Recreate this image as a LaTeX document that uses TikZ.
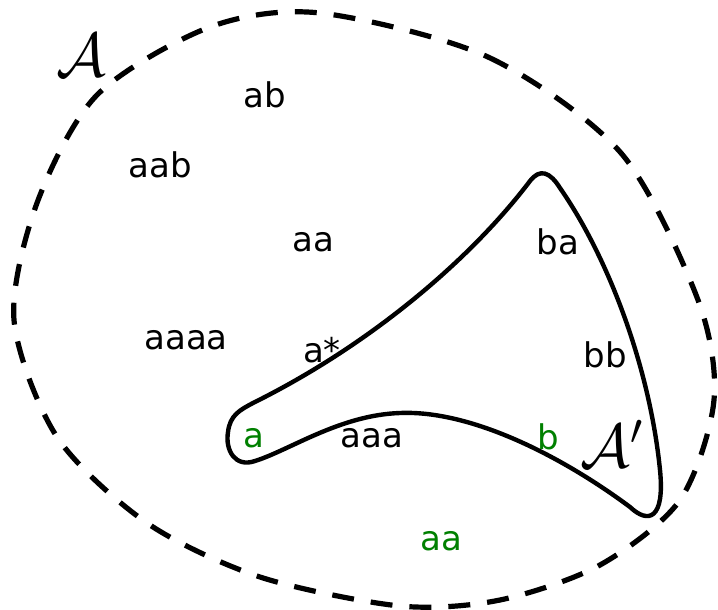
\RequirePackage{fix-cm}
\documentclass[tikz,border=0pt]{standalone}
\usepackage{amsmath,amssymb}
\usepackage{fontspec}
\setmainfont{DejaVu Sans}
\usepackage{xcolor}
\usepackage{tikz}
\usetikzlibrary{calc}
\definecolor{hit}{RGB}{0,128,0}
\tikzset{
  word/.style={font=\fontsize{17}{20}\selectfont},
  setname/.style={font=\fontsize{31}{37}\selectfont},
}

\begin{document}
\begin{tikzpicture}[x=0.5pt, y=-0.5pt]
  \useasboundingbox (0,0) rectangle (718,610);
  % outer set A (dashed)
  \draw[line width=2.6pt, dash pattern=on 11pt off 8.5pt]
    plot[smooth cycle] coordinates {(320,13) (488,57) (621,153) (698,300)
      (714,400) (680,500) (600,565) (500,600) (400,606) (260,577) (147,523)
      (57,437) (14,320) (37,203) (97,95) (210,27)};
  % inner set A' (solid blob)
  \draw[line width=2.2pt]
    (228,432) .. controls (230,415) and (240,410) .. (253,403)
    .. controls (370,345) and (470,260) .. (530,181)
    .. controls (540,168) and (550,172) .. (560,188)
    .. controls (610,260) and (650,370) .. (660,470)
    .. controls (665,520) and (648,524) .. (630,507)
    .. controls (560,455) and (470,410) .. (400,413)
    .. controls (340,415) and (290,450) .. (255,461)
    .. controls (235,468) and (225,450) .. cycle;
  % set names
  \node[setname] (setA) at (81,55) {$\mathcal{A}$};
  \node[setname] (setAp) at (612,444) {$\mathcal{A}'$};
  % words outside A'
  \node[word] (ab) at (265,95) {ab};
  \node[word] (aab) at (160,165) {aab};
  \node[word] (aa) at (313,242) {aa};
  \node[word] (aaaa) at (186,340) {aaaa};
  \node[word, hit] (aaout) at (441,541) {aa};
  % words inside A'
  \node[word] (astar) at (322,350) {a*};
  \node[word] (ba) at (558,242) {ba};
  \node[word] (bb) at (605,355) {bb};
  \node[word, hit] (a) at (254,438) {a};
  \node[word] (aaa) at (372,438) {aaa};
  \node[word, hit] (b) at (548,437) {b};
\end{tikzpicture}
\end{document}
